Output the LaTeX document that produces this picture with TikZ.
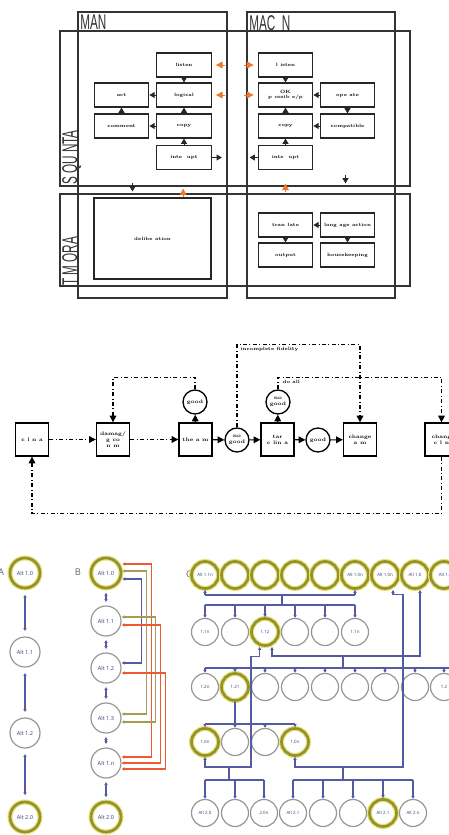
\documentclass[tikz,border=0pt]{standalone}
\usepackage{fontspec}
\usetikzlibrary{arrows.meta}
\newfontfamily\altfont{Open Sans}
\newfontfamily\hdfont{Liberation Sans}
\definecolor{orng}{RGB}{240,120,40}
\definecolor{linkblue}{RGB}{85,90,165}
\definecolor{linkred}{RGB}{235,90,50}
\definecolor{linkolive}{RGB}{165,155,85}
\definecolor{olv}{RGB}{150,145,40}
\definecolor{olvglow}{RGB}{230,228,130}
\definecolor{circgray}{RGB}{150,150,150}

\tikzset{
  colframe/.style={draw=black!80, line width=1.1pt},
  hd/.style={font=\hdfont\fontsize{16}{16}\selectfont, text=black!80, inner sep=0pt},
  blk/.style={draw=black!85, line width=0.8pt, minimum width=41pt, minimum height=18pt,
    inner sep=0pt, align=center, font=\fontsize{3.5}{4}\selectfont\bfseries},
  arr/.style={-{Triangle[length=4pt,width=4.5pt]}, line width=0.7pt, black!85},
  oarr/.style={-{Triangle[length=5pt,width=5pt]}, line width=0.7pt, orng},
  sq/.style={draw, line width=1pt, minimum size=24.75pt, inner sep=0pt, align=center,
    font=\fontsize{3.8}{4.4}\selectfont\bfseries},
  rnd/.style={circle, draw, line width=1pt, minimum size=18pt, inner sep=0pt, align=center,
    font=\fontsize{3.8}{4.4}\selectfont\bfseries},
  sarr/.style={-{Triangle[length=5pt,width=5pt]}, line width=0.8pt},
  ddarr/.style={dash dot, line width=0.8pt, -{Triangle[length=5pt,width=5pt]}},
  alt/.style={circle, draw=circgray, line width=0.9pt, minimum size=22.5pt, inner sep=0pt,
    font=\altfont\fontsize{4.2}{5}\selectfont, text=linkblue!70!black},
  calt/.style={alt, minimum size=20.25pt, font=\altfont\fontsize{3.3}{4}\selectfont},
  hi/.style={draw=olv, line width=2pt, preaction={draw=olvglow, line width=3.8pt}},
  plain/.style={},
  blink/.style={linkblue, line width=0.8pt},
  tipb/.style={-{Latex[length=2.2pt,width=2.8pt]}},
  tips/.style={{Latex[length=2.2pt,width=2.8pt]}-{Latex[length=2.2pt,width=2.8pt]}}
}

\begin{document}
\begin{tikzpicture}[x=0.75pt,y=-0.75pt]
\useasboundingbox (0,0) rectangle (449,835);
\clip (0,0) rectangle (449,835);

% ---- top: columns and rows
\draw[colframe] (78,12) rectangle (227,298);
\draw[colframe] (247,12) rectangle (395,298);
\draw[colframe] (60,31) rectangle (410,186);
\draw[colframe] (60,194) rectangle (410,286);
\node[hd, anchor=north west] (human) at (80,15) {\scalebox{0.55}[1]{MAN}};
\node[hd, anchor=north west] (machine) at (249,15) {\scalebox{0.55}[1]{MAC\ \ N}};
\node[hd, rotate=90, anchor=north west] (seq) at (62,185) {\scalebox{0.55}[1]{S\ QU\ NTA}};
\node[hd, rotate=90, anchor=north west] (temp) at (62,286) {\scalebox{0.55}[1]{T\ M\ ORA}};

% human side
\node[blk] (listen) at (184,65) {listen};
\node[blk] (logical) at (184,95) {logical};
\node[blk] (act) at (121.5,95) {act};
\node[blk] (comment) at (121.5,126) {comment};
\node[blk] (copy) at (184,126) {copy};
\node[blk] (intr) at (184,157.5) {inte\ \ upt};
\node[blk, minimum width=87.75pt, minimum height=60.75pt] (delib) at (152.5,238.5) {delibe\ ation};

% machine side
\node[blk] (mlisten) at (285.5,65) {l isten};
\node[blk] (mok) at (285.5,95) {OK\\p ossib e/p};
\node[blk] (operate) at (347.5,95) {ope ate};
\node[blk] (mcopy) at (285.5,126) {copy};
\node[blk] (compat) at (347.5,126) {compatible};
\node[blk] (mintr) at (285.5,157.5) {inte\ \ upt};
\node[blk] (transl) at (285.5,225) {tran late};
\node[blk] (lang) at (347.5,225) {lang age action};
\node[blk] (output) at (285.5,255) {output};
\node[blk] (house) at (347.5,255) {housekeeping};

\draw[arr] (listen) -- (logical);
\draw[arr] (logical) -- (act);
\draw[arr] (comment) -- (act);
\draw[arr] (copy) -- (comment);
\draw[arr] (copy) -- (logical);
\draw[arr] (intr) -- (copy);
\draw[arr] (intr.east) -- ++(10,0);
\draw[arr] (mlisten) -- (mok);
\draw[arr] (operate) -- (mok);
\draw[arr] (operate) -- (compat);
\draw[arr] (compat) -- (mcopy);
\draw[arr] (mcopy) -- (mok);
\draw[arr] (mintr) -- (mcopy);
\draw[arr] (mintr.west) -- ++(-8,0);
\draw[arr] (lang) -- (transl);
\draw[arr] (transl) -- (output);
\draw[arr] (lang) -- (house);

\draw[oarr] ([xshift=10pt]listen.east) -- ([xshift=3pt]listen.east);
\draw[oarr] ([xshift=10pt]logical.east) -- ([xshift=3pt]logical.east);
\draw[oarr] ([xshift=-10pt]mlisten.west) -- ([xshift=-3pt]mlisten.west);
\draw[oarr] ([xshift=-10pt]mok.west) -- ([xshift=-3pt]mok.west);
\draw[oarr] ([xshift=23pt]delib.north) -- ++(0,-9);
\draw[oarr] (mintr.south |- transl.north) ++(0,-20) -- ++(0,-9);
\draw[arr] ([xshift=-15pt]delib.north) ++(0,-14) -- ++(0,8);
\draw[arr] (lang.north) ++(-2,-37) -- ++(0,8);

% ---- middle: repair loop
\node[sq] (clean) at (32,439.5) {c l n a};
\node[sq] (damage) at (113,439.5) {damag/\\g co\\n m};
\node[sq] (them) at (195.5,439.5) {the a m};
\node[rnd] (nogood) at (237,440) {no\\good};
\node[sq] (tar) at (277.5,439.5) {tar\\c lin a};
\node[rnd] (good) at (318,440) {good};
\node[sq] (change) at (360,439.5) {change\\a m};
\node[sq] (changc) at (441.5,439.5) {chang\\c l n};
\node[rnd] (goodup) at (195,402) {good};
\node[rnd] (nogoodup) at (278,402) {no\\good};

\draw[ddarr] (clean) -- (damage);
\draw[ddarr] (damage) -- (them);
\draw[sarr] (them) -- (nogood);
\draw[sarr] (nogood) -- (tar);
\draw[sarr] (tar) -- (good);
\draw[sarr] (good) -- (change);
\draw[sarr] (them) -- (goodup);
\draw[sarr] (tar) -- (nogoodup);
\draw[ddarr] (goodup.north) -- ++(0,-12) -| (damage.north);
\draw[ddarr] (nogood.north) -- ++(0,-83) -| (change.north);
\draw[ddarr] (nogoodup.north) -- ++(0,-12) -| (changc.north);
\draw[ddarr] (changc.south) -- ++(0,57) -| (clean.south);
\node[anchor=north west, font=\fontsize{3.5}{4}\selectfont\bfseries, inner sep=1pt] (fail) at (239,346) {incomplete fidelity};
\node[anchor=north west, font=\fontsize{3.5}{4}\selectfont\bfseries, inner sep=1pt] (doall) at (281,379) {do all};

% ---- bottom: panel A
\node[font=\altfont\fontsize{7}{7}\selectfont, text=black!60] (labA) at (1,572) {A};
\foreach \n/\y/\t/\s in {a10/573/Alt 1.0/hi, a11/652/Alt 1.1/plain, a12/733/Alt 1.2/plain, a20/817/Alt 2.0/hi}
    \node[alt,\s] (\n) at (25,\y) {\t};
\draw[blink, tips, shorten >=4pt, shorten <=4pt] (a10) -- (a11);
\draw[blink, tips, shorten >=4pt, shorten <=4pt] (a11) -- (a12);
\draw[blink, tips, shorten >=4pt, shorten <=4pt] (a12) -- (a20);

% panel B
\node[font=\altfont\fontsize{7}{7}\selectfont, text=black!60] (labB) at (78,572) {B};
\foreach \n/\y/\t/\s in {b10/573/Alt 1.0/hi, b11/621/Alt 1.1/plain, b12/668/Alt 1.2/plain,
    b13/718/Alt 1.3/plain, b1n/763/Alt 1.n/plain, b20/817/Alt 2.0/hi}
    \node[alt,\s] (\n) at (106,\y) {\t};
\foreach \p/\q in {b10/b11, b11/b12, b12/b13, b13/b1n, b1n/b20}
    \draw[blink, tips, shorten >=2.5pt, shorten <=2.5pt] (\p) -- (\q);
\draw[blink, tips] ([yshift=-4.5pt]b10.east) -- ++(19,0) |- ([yshift=3.75pt]b12.east);
\draw[linkolive, line width=0.8pt, tips] ([yshift=1.5pt]b10.east) -- ++(24,0) |- ([yshift=3pt]b13.east);
\draw[linkred, line width=0.8pt, tips] ([yshift=6.75pt]b10.east) -- ++(29,0) |- ([yshift=4.5pt]b1n.east);
\draw[linkolive, line width=0.8pt, tips] ([yshift=3pt]b11.east) -- ++(34,0) |- ([yshift=-3pt]b13.east);
\draw[linkred, line width=0.8pt, tips] ([yshift=-3pt]b11.east) -- ++(39,0) |- (b1n.east);
\draw[linkred, line width=0.8pt, tips] ([yshift=-3.75pt]b12.east) -- ++(44,0) |- ([yshift=-4.5pt]b1n.east);

% panel C
\node[font=\altfont\fontsize{7}{7}\selectfont, text=black!60] (labC) at (189,574) {C};
\foreach \i/\x/\t/\s in {1/205/Alt 1.1n/hi, 2/235//hi, 3/265//hi, 4/295//hi, 5/325//hi,
    6/355/Alt 1.0n/hi, 7/385/Alt 1.0n/hi, 8/415/Alt 1.0/hi, 9/444/Alt 1./hi}
    \node[calt,\s] (c1\i) at (\x,575) {\t};
\foreach \i/\x/\t/\s in {1/205/1.1n/plain, 2/235//plain, 3/265/1.12/hi, 4/295//plain,
    5/325//plain, 6/355/1.1n/plain}
    \node[calt,\s] (c2\i) at (\x,632) {\t};
\foreach \i/\x/\t/\s in {1/205/1.2n/plain, 2/235/1.21/hi, 3/265//plain, 4/295//plain,
    5/325//plain, 6/355//plain, 7/385//plain, 8/415//plain, 9/444/1.2/plain}
    \node[calt,\s] (c3\i) at (\x,687) {\t};
\foreach \i/\x/\t/\s in {1/205/1.0n/hi, 2/235//plain, 3/265//plain, 4/295/1.0n/hi}
    \node[calt,\s] (c4\i) at (\x,742) {\t};
\foreach \i/\x/\t/\s in {1/205/Alt 2.0/plain, 2/235//plain, 3/264/2.0n/plain, 4/293/Alt 2.1/plain,
    5/323//plain, 6/353//plain, 7/383/Alt 2.1/hi, 8/413/Alt 2.n/plain}
    \node[calt,\s] (c5\i) at (\x,813) {\t};

\coordinate (busA) at (282,595);
\coordinate (busB) at (282,605);
\coordinate (busC) at (343,668);
\coordinate (jC) at (343,656);
\coordinate (busD) at (235,724);
\coordinate (kL) at (251,767);
\coordinate (kR) at (403,767);
\coordinate (busE) at (229,780);
\coordinate (busF) at (343,780);

\draw[blink] (c11 |- busA) -- (c16 |- busA);
\draw[blink, tipb] (c11 |- busA) -- (c11.south);
\draw[blink, tipb] (c16 |- busA) -- (c16.south);
\draw[blink] (busA) -- (busB);
\draw[blink] (c21 |- busB) -- (c26 |- busB);
\foreach \i in {1,...,6}
    \draw[blink, tipb] (c2\i |- busB) -- (c2\i.north);

\draw[blink] (c31 |- busC) -- ++(260,0);
\foreach \i in {1,...,9}
    \draw[blink, tipb] (c3\i |- busC) -- (c3\i.north);
\draw[blink] (busC) -- (jC);
\draw[blink, tipb] (jC) -| ([xshift=5.25pt]c23.south);
\draw[blink, tipb] (jC) -| ([xshift=3.75pt]c18.south);

\draw[blink] (c32.south) -- (busD);
\draw[blink] (c41 |- busD) -- (c44 |- busD);
\foreach \i in {1,...,4}
    \draw[blink, tipb] (c4\i |- busD) -- (c4\i.north);

\draw[blink, tips] ([xshift=-4pt]c23.south) -- ++(0,10) -| (kL) -| (c41.south);
\draw[blink, tips] ([xshift=6pt]c17.south) -- ++(0,5) -| (kR) -| (c44.south);

\draw[blink] (busE |- kL) -- (busE);
\draw[blink] (c51 |- busE) -- (c53 |- busE);
\foreach \i in {1,2,3}
    \draw[blink, tipb] (c5\i |- busE) -- (c5\i.north);
\draw[blink] (busF |- kR) -- (busF);
\draw[blink] (c54 |- busF) -- (c58 |- busF);
\foreach \i in {4,...,8}
    \draw[blink, tipb] (c5\i |- busF) -- (c5\i.north);
\end{tikzpicture}
\end{document}
